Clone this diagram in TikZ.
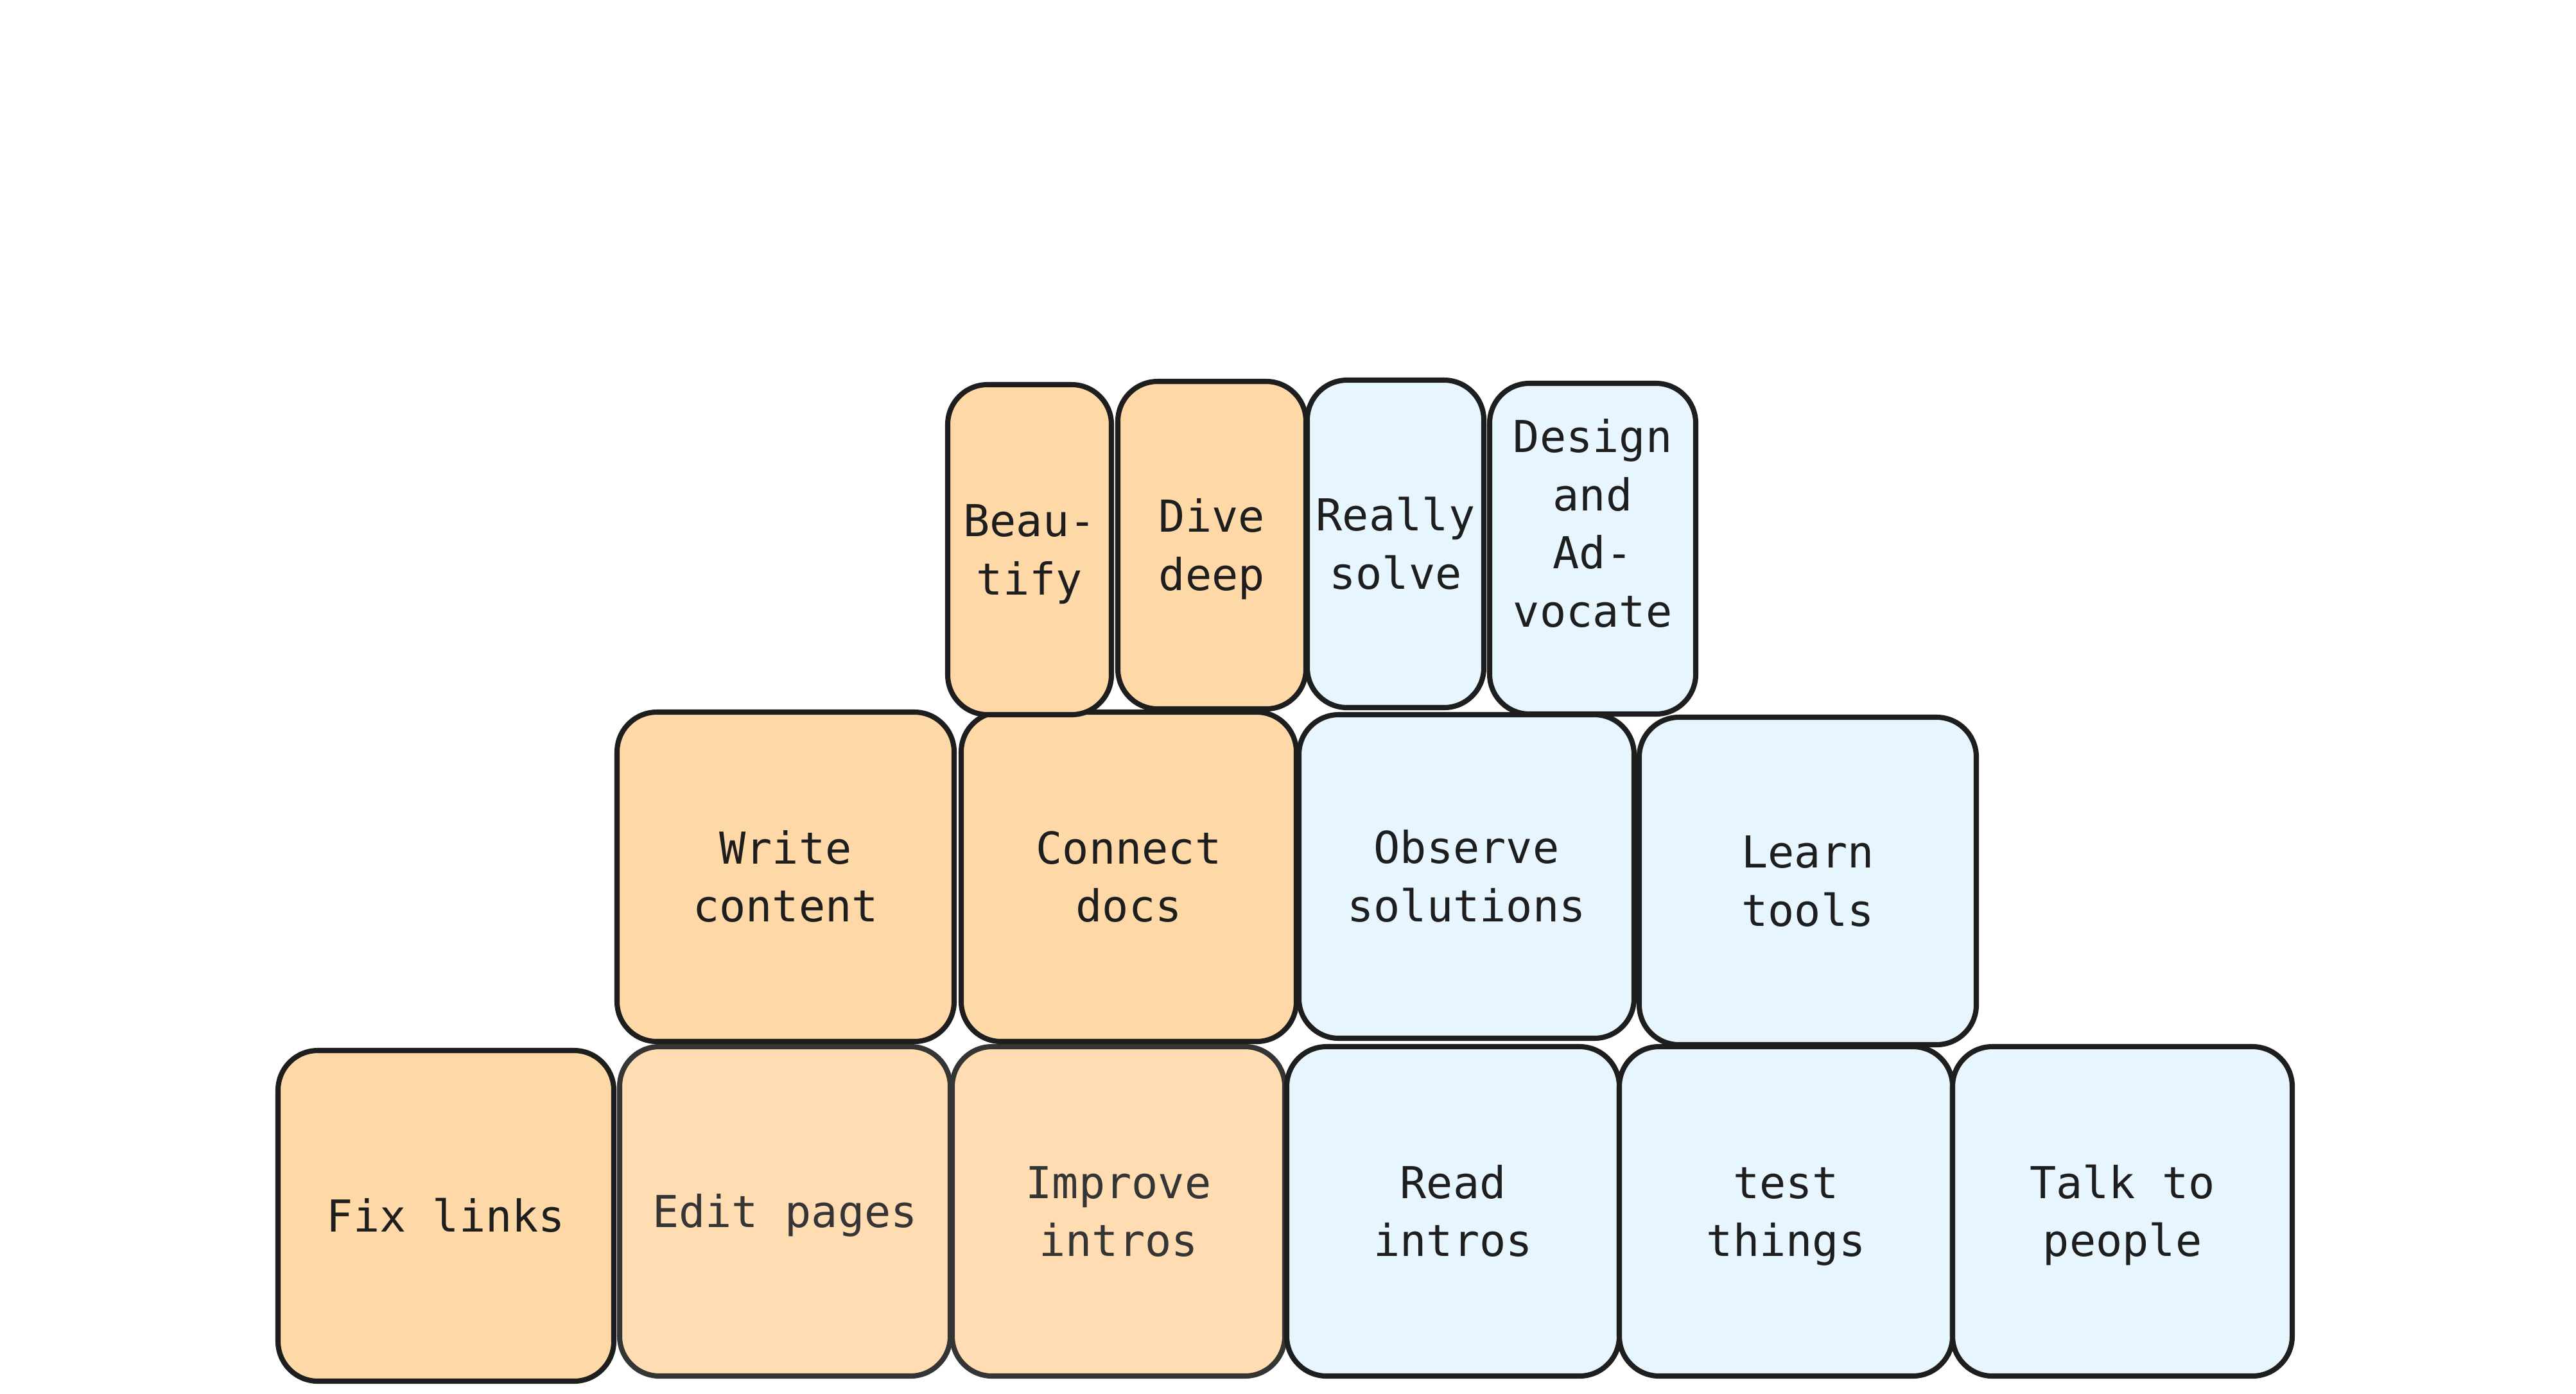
\documentclass[tikz,border=0pt]{standalone}
\usepackage{fontspec}
\newfontfamily\boxfont{DejaVu Sans Mono}
\definecolor{ink}{HTML}{1E1E1E}
\definecolor{softink}{HTML}{353535}
\definecolor{warmfill}{HTML}{FFD8A8}
\definecolor{warmsoftfill}{HTML}{FFDCB1}
\definecolor{coolfill}{HTML}{E7F5FF}
\newcommand{\ls}{\rule[-0.27em]{0pt}{1.27em}}
\tikzset{
  card/.style={draw=ink, line width=2.3pt, rounded corners=0.62cm, inner sep=0pt,
    align=center, text=ink, font=\boxfont\fontsize{19.5pt}{24.75pt}\selectfont},
  warm/.style={card, fill=warmfill},
  warmsoft/.style={card, fill=warmsoftfill, draw=softink, text=softink},
  cool/.style={card, fill=coolfill},
}
\begin{document}
\begin{tikzpicture}
\useasboundingbox (0,0) rectangle (40.12,-21.70);
% bottom row
\node[warm, minimum width=5.23cm, minimum height=5.15cm] (fix) at (6.945,-18.935) {\ls Fix links};
\node[warmsoft, minimum width=5.15cm, minimum height=5.13cm] (edit) at (12.225,-18.865) {\ls Edit pages};
\node[warmsoft, minimum width=5.18cm, minimum height=5.13cm] (improve) at (17.42,-18.865) {\ls Improve\\\ls intros};
\node[cool, minimum width=5.18cm, minimum height=5.13cm] (read) at (22.63,-18.865) {\ls Read\\\ls intros};
\node[cool, minimum width=5.19cm, minimum height=5.13cm] (test) at (27.815,-18.865) {\ls test\\\ls things};
\node[cool, minimum width=5.29cm, minimum height=5.13cm] (talk) at (33.055,-18.865) {\ls Talk to\\\ls people};
% middle row
\node[warm, minimum width=5.25cm, minimum height=5.13cm] (write) at (12.235,-13.655) {\ls Write\\\ls content};
\node[warm, minimum width=5.22cm, minimum height=5.13cm] (connect) at (17.58,-13.655) {\ls Connect\\\ls docs};
\node[cool, minimum width=5.22cm, minimum height=5.04cm] (observe) at (22.84,-13.65) {\ls Observe\\\ls solutions};
\node[cool, minimum width=5.25cm, minimum height=5.10cm] (learn) at (28.155,-13.72) {\ls Learn\\\ls tools};
% top row
\node[warm, minimum width=2.55cm, minimum height=5.14cm] (beautify) at (16.035,-8.56) {\ls Beau-\\\ls tify};
\node[warm, minimum width=2.93cm, minimum height=5.10cm] (dive) at (18.875,-8.49) {\ls Dive\\\ls deep};
\node[cool, minimum width=2.75cm, minimum height=5.10cm] (really) at (21.735,-8.47) {\ls Really\\\ls solve};
\node[cool, minimum width=3.21cm, minimum height=5.15cm] (design) at (24.805,-8.545) {\ls Design\\\ls and\\\ls Ad-\\\ls vocate\rule[-27.5pt]{0pt}{27.5pt}};
\end{tikzpicture}
\end{document}
